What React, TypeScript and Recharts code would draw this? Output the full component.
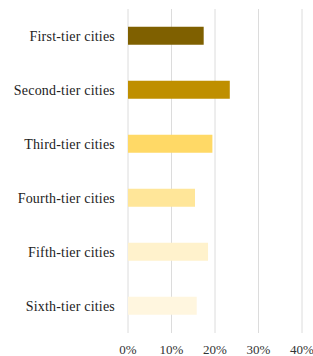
import React from "react";
import { BarChart, Bar, XAxis, YAxis, CartesianGrid, Cell } from "recharts";

const categories = [
  "First-tier cities",
  "Second-tier cities",
  "Third-tier cities",
  "Fourth-tier cities",
  "Fifth-tier cities",
  "Sixth-tier cities",
];
const shares = [17.4, 23.4, 19.4, 15.4, 18.4, 15.8];
const barColors = ["#7f6000", "#bf8f00", "#ffd966", "#ffe699", "#fff2cc", "#fff6df"];
const xTicks = [0, 10, 20, 30, 40];

const data = categories.map((name, i) => ({ name, value: shares[i] }));

export default function App() {
  return (
    <div style={{ position: "absolute", left: 0, top: 0, background: "#fff" }}>
      <BarChart
        width={313}
        height={356}
        data={data}
        layout="vertical"
        margin={{ top: 9, right: 11, bottom: 0, left: 0 }}
        barCategoryGap="33%"
      >
        <CartesianGrid horizontal={false} stroke="#dcdcdc" />
        <XAxis
          type="number"
          domain={[0, 40]}
          ticks={xTicks}
          tickFormatter={(v) => `${v}%`}
          axisLine={false}
          tickLine={false}
          height={23}
          tickMargin={6}
          interval={0}
          tick={{ fontSize: 13, fill: "#333", fontFamily: "Liberation Serif" }}
        />
        <YAxis
          type="category"
          dataKey="name"
          width={128}
          axisLine={false}
          tickLine={false}
          tickMargin={7}
          interval={0}
          tick={{ fontSize: 14, fill: "#222", fontFamily: "Liberation Serif", letterSpacing: 0.2 }}
        />
        <Bar dataKey="value" isAnimationActive={false}>
          {data.map((d, i) => (
            <Cell key={d.name} fill={barColors[i]} />
          ))}
        </Bar>
      </BarChart>
    </div>
  );
}
